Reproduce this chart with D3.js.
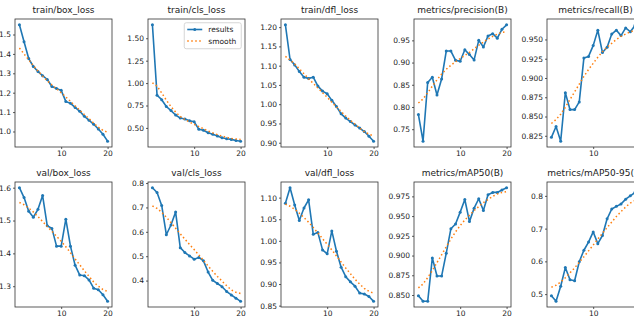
<!DOCTYPE html>
<html>
<head>
<meta charset="utf-8">
<script src="https://cdn.jsdelivr.net/npm/d3@7"></script>
<style>
  html, body { margin: 0; padding: 0; background: #fff; }
  svg { display: block; }
  text { font-family: "DejaVu Sans", sans-serif; fill: #222; }
</style>
</head>
<body>
<svg id="chart" width="634" height="331"></svg>
<script>
// ---------- data ----------
const epochs = [1,2,3,4,5,6,7,8,9,10,11,12,13,14,15,16,17,18,19,20];
const xTicks = [10, 20];

const titles = ["train/box_loss", "train/cls_loss", "train/dfl_loss", "metrics/precision(B)", "metrics/recall(B)",
                "val/box_loss", "val/cls_loss", "val/dfl_loss", "metrics/mAP50(B)", "metrics/mAP50-95(B)"];

const trainBoxLoss   = [1.550,1.463,1.376,1.335,1.309,1.288,1.268,1.232,1.222,1.212,1.155,1.145,1.124,1.104,1.078,1.058,1.037,1.013,0.986,0.950];
const trainBoxSmooth = [1.430,1.400,1.370,1.340,1.312,1.286,1.262,1.240,1.220,1.200,1.178,1.155,1.132,1.110,1.087,1.066,1.043,1.022,1.006,0.996];

const trainClsLoss   = [1.650,0.864,0.815,0.739,0.693,0.644,0.610,0.599,0.580,0.568,0.485,0.473,0.447,0.428,0.409,0.390,0.379,0.372,0.360,0.352];
const trainClsSmooth = [1.003,0.966,0.890,0.810,0.738,0.677,0.628,0.594,0.565,0.540,0.515,0.490,0.465,0.445,0.425,0.408,0.394,0.383,0.376,0.372];

const trainDflLoss   = [1.206,1.116,1.102,1.085,1.070,1.067,1.070,1.047,1.034,1.027,1.010,0.994,0.975,0.964,0.955,0.946,0.938,0.929,0.917,0.904];
const trainDflSmooth = [1.124,1.115,1.104,1.092,1.079,1.066,1.054,1.042,1.030,1.018,1.005,0.993,0.981,0.969,0.958,0.948,0.938,0.929,0.922,0.918];

const precision       = [0.783,0.723,0.855,0.867,0.827,0.863,0.926,0.926,0.905,0.903,0.929,0.918,0.906,0.950,0.935,0.960,0.965,0.955,0.975,0.985];
const precisionSmooth = [0.809,0.818,0.832,0.847,0.861,0.874,0.885,0.894,0.902,0.909,0.916,0.923,0.931,0.939,0.946,0.953,0.959,0.964,0.968,0.970];

const recall       = [0.823,0.837,0.818,0.881,0.859,0.859,0.869,0.926,0.928,0.942,0.962,0.933,0.940,0.957,0.962,0.955,0.965,0.960,0.968,0.969];
const recallSmooth = [0.841,0.846,0.853,0.862,0.872,0.882,0.892,0.902,0.911,0.919,0.927,0.934,0.940,0.945,0.950,0.954,0.957,0.960,0.962,0.963];

const valBoxLoss   = [1.600,1.570,1.528,1.510,1.534,1.576,1.484,1.476,1.422,1.422,1.504,1.422,1.364,1.334,1.332,1.319,1.294,1.289,1.274,1.254];
const valBoxSmooth = [1.555,1.548,1.538,1.526,1.512,1.497,1.482,1.467,1.452,1.437,1.420,1.402,1.383,1.365,1.347,1.330,1.313,1.300,1.290,1.284];

const valClsLoss   = [0.781,0.761,0.708,0.588,0.628,0.681,0.535,0.515,0.501,0.488,0.495,0.481,0.435,0.401,0.388,0.375,0.355,0.341,0.328,0.315];
const valClsSmooth = [0.706,0.696,0.680,0.660,0.638,0.615,0.592,0.570,0.548,0.527,0.505,0.483,0.460,0.438,0.417,0.398,0.379,0.362,0.352,0.347];

const valDflLoss   = [1.087,1.123,1.083,1.047,1.076,1.095,1.015,1.019,0.979,0.970,1.023,0.976,0.939,0.917,0.905,0.895,0.879,0.877,0.871,0.860];
const valDflSmooth = [1.085,1.080,1.073,1.064,1.054,1.043,1.031,1.018,1.005,0.992,0.979,0.965,0.951,0.937,0.924,0.911,0.900,0.890,0.883,0.879];

const map50       = [0.849,0.842,0.842,0.897,0.874,0.874,0.903,0.934,0.940,0.955,0.971,0.943,0.960,0.972,0.957,0.977,0.980,0.980,0.983,0.986];
const map50Smooth = [0.859,0.864,0.872,0.881,0.891,0.901,0.911,0.921,0.930,0.938,0.945,0.951,0.957,0.962,0.967,0.971,0.975,0.978,0.980,0.981];

const map5095       = [0.495,0.478,0.524,0.581,0.544,0.541,0.599,0.634,0.659,0.690,0.654,0.679,0.730,0.760,0.768,0.775,0.790,0.800,0.810,0.825];
const map5095Smooth = [0.521,0.527,0.537,0.550,0.565,0.580,0.597,0.614,0.632,0.650,0.668,0.686,0.703,0.720,0.737,0.752,0.766,0.778,0.786,0.790];

// y tick values and label formats per panel
const yTicksList = [
  [1.0, 1.1, 1.2, 1.3, 1.4, 1.5],
  [0.50, 0.75, 1.00, 1.25, 1.50],
  [0.90, 0.95, 1.00, 1.05, 1.10, 1.15, 1.20],
  [0.75, 0.80, 0.85, 0.90, 0.95],
  [0.825, 0.850, 0.875, 0.900, 0.925, 0.950],
  [1.3, 1.4, 1.5, 1.6],
  [0.4, 0.5, 0.6, 0.7, 0.8],
  [0.85, 0.90, 0.95, 1.00, 1.05, 1.10],
  [0.850, 0.875, 0.900, 0.925, 0.950, 0.975],
  [0.5, 0.6, 0.7, 0.8]
];
const yFormats = [".1f", ".2f", ".2f", ".2f", ".3f", ".1f", ".1f", ".2f", ".3f", ".1f"];
const legendLabels = ["results", "smooth"];

// ---------- layout ----------
const seriesList = [trainBoxLoss, trainClsLoss, trainDflLoss, precision, recall,
                    valBoxLoss, valClsLoss, valDflLoss, map50, map5095];
const smoothList = [trainBoxSmooth, trainClsSmooth, trainDflSmooth, precisionSmooth, recallSmooth,
                    valBoxSmooth, valClsSmooth, valDflSmooth, map50Smooth, map5095Smooth];

const colLefts = [15, 148, 281, 414, 547];
const panelW = 97;
const rows = [{top: 19, bottom: 147}, {top: 182, bottom: 307}];

const blue = "#1f77b4", orange = "#ff7f0e";
const svg = d3.select("#chart");

seriesList.forEach((ys, i) => {
  const r = rows[Math.floor(i / 5)];
  const left = colLefts[i % 5];
  const right = left + panelW;
  const sm = smoothList[i];

  const x = d3.scaleLinear().domain([0.05, 20.95]).range([left, right]);
  const all = ys.concat(sm);
  const lo = d3.min(all), hi = d3.max(all), pad = (hi - lo) * 0.05;
  const y = d3.scaleLinear().domain([lo - pad, hi + pad]).range([r.bottom, r.top]);

  const g = svg.append("g");

  // title
  g.append("text")
    .attr("x", (left + right) / 2).attr("y", r.top - 6)
    .attr("text-anchor", "middle").attr("font-size", 9)
    .text(titles[i]);

  // axes
  const xAxis = d3.axisBottom(x).tickValues(xTicks).tickSize(2).tickPadding(2).tickFormat(d3.format("d"));
  const yAxis = d3.axisLeft(y).tickValues(yTicksList[i]).tickSize(2).tickPadding(2).tickFormat(d3.format(yFormats[i]));

  const gx = g.append("g").attr("transform", `translate(0,${r.bottom})`).call(xAxis);
  const gy = g.append("g").attr("transform", `translate(${left},0)`).call(yAxis);
  [gx, gy].forEach(a => {
    a.select(".domain").remove();
    a.selectAll("line").attr("stroke", "#333").attr("stroke-width", 0.8);
    a.selectAll("text").attr("font-size", 7.5).attr("fill", "#222")
      .style("font-family", "'DejaVu Sans', sans-serif");
  });

  // frame
  g.append("rect")
    .attr("x", left).attr("y", r.top)
    .attr("width", panelW).attr("height", r.bottom - r.top)
    .attr("fill", "none").attr("stroke", "#333").attr("stroke-width", 0.8);

  // results line
  const line = d3.line().x((d, k) => x(epochs[k])).y(d => y(d));
  g.append("path").datum(ys)
    .attr("d", line).attr("fill", "none")
    .attr("stroke", blue).attr("stroke-width", 1.6).attr("stroke-linejoin", "round");
  g.selectAll("circle.pt").data(ys).enter().append("circle")
    .attr("class", "pt")
    .attr("cx", (d, k) => x(epochs[k])).attr("cy", d => y(d))
    .attr("r", 1.5).attr("fill", blue);

  // smooth line
  g.append("path").datum(sm)
    .attr("d", line).attr("fill", "none")
    .attr("stroke", orange).attr("stroke-width", 1.5)
    .attr("stroke-dasharray", "1.5,2.5");

  // legend in second panel
  if (i === 1) {
    const lw = 57, lh = 26;
    const lx = right - 3.75 - lw, ly = r.top + 3.75;
    const lg = g.append("g");
    lg.append("rect").attr("x", lx).attr("y", ly).attr("width", lw).attr("height", lh)
      .attr("rx", 2).attr("fill", "#fff").attr("fill-opacity", 0.8)
      .attr("stroke", "#ccc").attr("stroke-width", 0.8);
    legendLabels.forEach((lab, k) => {
      const cy = ly + 3 + 3.75 + k * 11.5;
      const hx0 = lx + 3, hx1 = lx + 18;
      if (k === 0) {
        lg.append("line").attr("x1", hx0).attr("x2", hx1).attr("y1", cy).attr("y2", cy)
          .attr("stroke", blue).attr("stroke-width", 1.6);
        lg.append("circle").attr("cx", (hx0 + hx1) / 2).attr("cy", cy).attr("r", 1.5).attr("fill", blue);
      } else {
        lg.append("line").attr("x1", hx0).attr("x2", hx1).attr("y1", cy).attr("y2", cy)
          .attr("stroke", orange).attr("stroke-width", 1.5).attr("stroke-dasharray", "1.5,2.5");
      }
      lg.append("text").attr("x", hx1 + 6).attr("y", cy + 2.7)
        .attr("font-size", 7.5).text(lab);
    });
  }
});
</script>
</body>
</html>
